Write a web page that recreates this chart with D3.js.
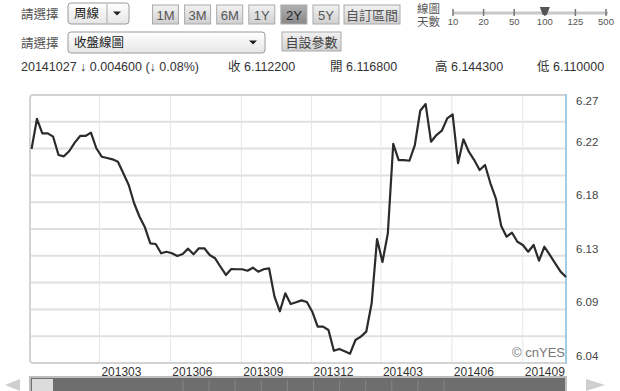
<!DOCTYPE html>
<html lang="zh-Hant">
<head>
<meta charset="UTF-8">
<title>周線 收盤線圖</title>
<script src="https://d3js.org/d3.v7.min.js"></script>
<style>
  body { margin: 0; padding: 0; background: #fff; }
  svg { display: block; font-family: Arial, "Liberation Sans", "Noto Sans CJK TC", sans-serif; }
  .hdr { fill: #555; font-size: 12.5px; }
  .info { fill: #333; font-size: 12.5px; }
  .btn text { fill: #444; font-size: 13px; text-anchor: middle; }
  .axis-x { fill: #333; font-size: 12px; }
  .axis-y { fill: #444; font-size: 11.5px; }
</style>
</head>
<body>
<div id="chart"></div>
<script>
// weekly closing values, oldest first, last point = 2014-10-27
const lastDate = "2014-10-27";
const closes = [
  6.2197, 6.2449, 6.2328, 6.2328, 6.2300, 6.2146, 6.2135, 6.2180, 6.2250, 6.2306,
  6.2306, 6.2334, 6.2203, 6.2132, 6.2121, 6.2110, 6.2090, 6.1993, 6.1894, 6.1741,
  6.1628, 6.1539, 6.1405, 6.1399, 6.1321, 6.1334, 6.1321, 6.1298, 6.1315, 6.1360,
  6.1313, 6.1363, 6.1363, 6.1307, 6.1279, 6.1208, 6.1139, 6.1189, 6.1187, 6.1187,
  6.1175, 6.1200, 6.1167, 6.1187, 6.1195, 6.0957, 6.0834, 6.0985, 6.0895, 6.0910,
  6.0926, 6.0912, 6.0831, 6.0705, 6.0705, 6.0677, 6.0503, 6.0518, 6.0498, 6.0478,
  6.0593, 6.0621, 6.0663, 6.0901, 6.1441, 6.1248, 6.1489, 6.2239, 6.2104, 6.2104,
  6.2098, 6.2230, 6.2518, 6.2574, 6.2258, 6.2314, 6.2350, 6.2454, 6.2488, 6.2077,
  6.2278, 6.2174, 6.2104, 6.2020, 6.2062, 6.1909, 6.1783, 6.1550, 6.1460, 6.1494,
  6.1418, 6.1391, 6.1334, 6.1391, 6.1259, 6.1376, 6.1307, 6.1237, 6.1167, 6.1122
];
const monthTicks = ["201303", "201306", "201309", "201312", "201403", "201406", "201409"];
const yTickLabels = ["6.04", "6.09", "6.13", "6.18", "6.22", "6.27"];
const rangeButtons = ["1M", "3M", "6M", "1Y", "2Y", "5Y", "自訂區間"];
const sliderLabels = ["10", "20", "50", "100", "125", "500"];
const quote = { date: "20141027", change: "0.004600", pct: "0.08%", close: "6.112200", open: "6.116800", high: "6.144300", low: "6.110000" };

const W = 620, H = 391;
const plot = { left: 30, right: 566, top: 95, bottom: 363 };

const parseDay = d3.timeParse("%Y-%m-%d");
const parseMonth = d3.timeParse("%Y%m");
const end = parseDay(lastDate);
const data = closes.map((v, i) => ({ date: d3.timeDay.offset(end, -7 * (closes.length - 1 - i)), value: v }));

const x = d3.scaleTime()
  .domain([d3.timeDay.offset(data[0].date, -2), end])
  .range([plot.left, plot.right]);
const y = d3.scaleLinear().domain([6.04, 6.265]).range([plot.bottom, plot.top]);

const svg = d3.select("#chart").append("svg").attr("width", W).attr("height", H);

// ---------- header controls ----------
const defs = svg.append("defs");
const g1 = defs.append("linearGradient").attr("id", "btnGrad").attr("x1", 0).attr("y1", 0).attr("x2", 0).attr("y2", 1);
g1.append("stop").attr("offset", "0%").attr("stop-color", "#f2f2f2");
g1.append("stop").attr("offset", "100%").attr("stop-color", "#cfcfcf");
const g2 = defs.append("linearGradient").attr("id", "btnOn").attr("x1", 0).attr("y1", 0).attr("x2", 0).attr("y2", 1);
g2.append("stop").attr("offset", "0%").attr("stop-color", "#b0b0b0");
g2.append("stop").attr("offset", "100%").attr("stop-color", "#888");
const g3 = defs.append("linearGradient").attr("id", "selGrad").attr("x1", 0).attr("y1", 0).attr("x2", 0).attr("y2", 1);
g3.append("stop").attr("offset", "0%").attr("stop-color", "#ffffff");
g3.append("stop").attr("offset", "100%").attr("stop-color", "#e6e6e6");

const header = svg.append("g");
header.append("text").attr("class", "hdr").attr("x", 21).attr("y", 19).text("請選擇");
header.append("text").attr("class", "hdr").attr("x", 21).attr("y", 48).text("請選擇");

function selectBox(x0, y0, w, h, label) {
  const g = header.append("g");
  g.append("rect").attr("x", x0).attr("y", y0).attr("width", w).attr("height", h)
    .attr("rx", 3).attr("fill", "url(#selGrad)").attr("stroke", "#9a9a9a");
  g.append("text").attr("x", x0 + 6).attr("y", y0 + h / 2 + 4.5)
    .attr("fill", "#222").style("font-size", "12.5px").text(label);
  g.append("path")
    .attr("d", `M${x0 + w - 16},${y0 + h / 2 - 2}l8,0l-4,4z`)
    .attr("fill", "#222");
  return g;
}
const s1 = selectBox(68, 3, 61, 21, "周線");
s1.append("line").attr("x1", 107).attr("x2", 107).attr("y1", 4).attr("y2", 23).attr("stroke", "#aaa");
selectBox(68, 32, 197, 21, "收盤線圖");

const btnX = d3.scalePoint().domain(rangeButtons.slice(0, 6)).range([165.5, 326]);
const btns = header.selectAll("g.btn").data(rangeButtons).join("g").attr("class", "btn");
btns.append("rect")
  .attr("x", d => d === "自訂區間" ? 344 : btnX(d) - 13)
  .attr("y", 5).attr("height", 19)
  .attr("width", d => d === "自訂區間" ? 56 : 26)
  .attr("fill", d => d === "2Y" ? "url(#btnOn)" : "url(#btnGrad)")
  .attr("stroke", "#aaa");
btns.append("text")
  .attr("x", d => d === "自訂區間" ? 372 : btnX(d))
  .attr("y", 19.5)
  .style("fill", d => d === "2Y" ? "#222" : "#555")
  .text(d => d);

const b2 = header.append("g").attr("class", "btn");
b2.append("rect").attr("x", 282).attr("y", 32).attr("width", 59).attr("height", 19)
  .attr("fill", "url(#btnGrad)").attr("stroke", "#aaa");
b2.append("text").attr("x", 311.5).attr("y", 46.5).text("自設參數");

// slider
header.append("text").attr("class", "hdr").attr("x", 417).attr("y", 13).style("font-size", "11.5px").text("線圖");
header.append("text").attr("class", "hdr").attr("x", 417).attr("y", 26).style("font-size", "11.5px").text("天數");
const sx = d3.scalePoint().domain(sliderLabels).range([453, 606]);
header.append("line").attr("x1", 453).attr("x2", 608).attr("y1", 13).attr("y2", 13)
  .attr("stroke", "#c8c8c8").attr("stroke-width", 3);
header.selectAll("line.tk").data(sliderLabels).join("line").attr("class", "tk")
  .attr("x1", d => sx(d)).attr("x2", d => sx(d)).attr("y1", 9).attr("y2", 16)
  .attr("stroke", "#777").attr("stroke-width", 1.5);
header.selectAll("text.sl").data(sliderLabels).join("text").attr("class", "sl")
  .attr("x", d => sx(d)).attr("y", 25).attr("text-anchor", "middle")
  .attr("fill", "#555").style("font-size", "9.5px").text(d => d);
header.append("path")
  .attr("d", `M${sx("100") - 5},7h10l-3,8h-4z`)
  .attr("fill", "#555");

// quote line
const arrow = "\u2193";
header.append("text").attr("class", "info").attr("x", 21).attr("y", 71)
  .text(`${quote.date}  ${arrow} ${quote.change} (${arrow} ${quote.pct})`);
header.append("text").attr("class", "info").attr("x", 228).attr("y", 71).text(`收 ${quote.close}`);
header.append("text").attr("class", "info").attr("x", 330).attr("y", 71).text(`開 ${quote.open}`);
header.append("text").attr("class", "info").attr("x", 435).attr("y", 71).text(`高 ${quote.high}`);
header.append("text").attr("class", "info").attr("x", 537).attr("y", 71).text(`低 ${quote.low}`);

// ---------- plot ----------
const chart = svg.append("g");

const gridVals = d3.range(11).map(i => 6.04 + i * 0.0225);
chart.selectAll("line.hg").data(gridVals.slice(1, 10)).join("line").attr("class", "hg")
  .attr("x1", plot.left).attr("x2", plot.right)
  .attr("y1", d => y(d)).attr("y2", d => y(d))
  .attr("stroke", "#e0e0e0").attr("stroke-width", 2);

const monthDates = monthTicks.map(parseMonth);
chart.selectAll("line.vg").data(monthDates).join("line").attr("class", "vg")
  .attr("x1", d => x(d)).attr("x2", d => x(d))
  .attr("y1", plot.top).attr("y2", plot.bottom)
  .attr("stroke", "#e6e6e6").attr("stroke-width", 1);

// frame: top, left, bottom grey; right blue
chart.append("path")
  .attr("d", `M${plot.right},${plot.top}H${plot.left + 3}q-3,0 -3,3V${plot.bottom - 3}q0,3 3,3H${plot.right}`)
  .attr("fill", "none").attr("stroke", "#d3d3d3").attr("stroke-width", 2);
chart.append("line")
  .attr("x1", plot.right).attr("x2", plot.right).attr("y1", plot.top - 1).attr("y2", plot.bottom + 1)
  .attr("stroke", "#9fcde6").attr("stroke-width", 2);

chart.append("text").attr("x", plot.right - 1).attr("y", 357).attr("text-anchor", "end")
  .attr("fill", "#777").style("font-size", "13px").text("© cnYES");

chart.append("path").datum(data)
  .attr("d", d3.line().x(d => x(d.date)).y(d => y(d.value)))
  .attr("fill", "none").attr("stroke", "#2b2b2b").attr("stroke-width", 2.2)
  .attr("stroke-linejoin", "round");

// axis labels
chart.selectAll("text.xl").data(monthTicks).join("text").attr("class", "axis-x")
  .attr("x", d => x(parseMonth(d)) + 2).attr("y", 376).text(d => d);

const yLabelVals = d3.range(6).map(i => gridVals[i * 2]);
chart.selectAll("text.yl").data(yTickLabels).join("text").attr("class", "axis-y")
  .attr("x", 576)
  .attr("y", (d, i) => i === 5 ? y(yLabelVals[i]) + 10 : y(yLabelVals[i]) - 3)
  .text(d => d);

// ---------- navigator scrollbar ----------
const nav = svg.append("g");
nav.append("rect").attr("x", plot.left).attr("y", 377).attr("width", plot.right - plot.left).attr("height", 16)
  .attr("fill", "#6e6e6e").attr("stroke", "#bdbdbd").attr("stroke-width", 2);
nav.append("rect").attr("x", plot.left + 2).attr("y", 379).attr("width", 21).attr("height", 14)
  .attr("fill", "#dcdcdc");
nav.selectAll("line.nt").data(d3.range(11)).join("line").attr("class", "nt")
  .attr("x1", i => 183 + i * 26.1).attr("x2", i => 183 + i * 26.1)
  .attr("y1", 380).attr("y2", 391).attr("stroke", "#858585");
nav.append("path").attr("d", "M5,385L20,379V391Z").attr("fill", "#cfcfcf");
nav.append("path").attr("d", "M605,385L586,379V391Z").attr("fill", "#cfcfcf");
</script>
</body>
</html>
